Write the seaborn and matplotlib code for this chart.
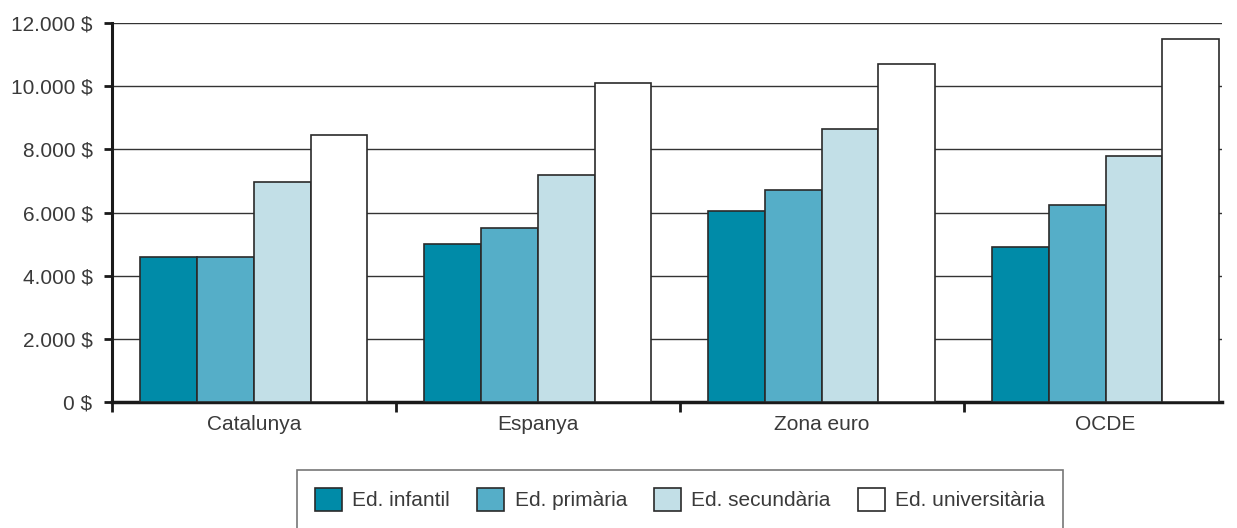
import pandas as pd
import numpy as np
import matplotlib.pyplot as plt
import seaborn as sns
from matplotlib.ticker import FuncFormatter, FixedLocator

regions = ["Catalunya", "Espanya", "Zona euro", "OCDE"]
levels = ["Ed. infantil", "Ed. primària", "Ed. secundària", "Ed. universitària"]
infantil = [4600, 5000, 6050, 4900]
primaria = [4600, 5500, 6700, 6250]
secundaria = [6980, 7200, 8650, 7800]
universitaria = [8450, 10100, 10700, 11500]
colors = ["#008ba8", "#55aec8", "#c2dfe7", "#ffffff"]

rows = []
for lev, vals in zip(levels, [infantil, primaria, secundaria, universitaria]):
    for reg, v in zip(regions, vals):
        rows.append({"regio": reg, "nivell": lev, "valor": v})
df = pd.DataFrame(rows)

sns.set_style("white")
plt.rcParams["font.family"] = ["Liberation Sans", "DejaVu Sans"]

fig = plt.figure(figsize=(12.37, 5.28), dpi=100)
ax = fig.add_axes([112 / 1237, 1 - 402 / 528, (1222 - 112) / 1237, (402 - 23) / 528])

sns.barplot(data=df, x="regio", y="valor", hue="nivell", order=regions, hue_order=levels,
            palette=colors, saturation=1, width=0.8, edgecolor="#2a2a2a", linewidth=1.2,
            legend=False, ax=ax, zorder=3)

ax.set_ylim(0, 12000)
ax.set_xlim(-0.5, 3.41)
ax.set_yticks(np.arange(0, 12001, 2000))
ax.yaxis.set_major_formatter(FuncFormatter(lambda v, p: f"{int(v):,} $".replace(",", ".")))
ax.grid(axis="y", color="#333333", linewidth=1.0, zorder=0)
ax.set_axisbelow(True)

for s in ["top", "right"]:
    ax.spines[s].set_visible(False)
ax.spines["left"].set_linewidth(2.2)
ax.spines["left"].set_color("#1a1a1a")
ax.spines["bottom"].set_linewidth(2.5)
ax.spines["bottom"].set_color("#1a1a1a")

ax.tick_params(axis="y", which="major", direction="out", length=6, width=2, color="#1a1a1a",
               labelsize=15, labelcolor="#3a3a3a", pad=8, left=True, right=False)
ax.tick_params(axis="x", which="major", length=0, labelsize=15, labelcolor="#3a3a3a", pad=9)
ax.xaxis.set_minor_locator(FixedLocator([-0.5, 0.5, 1.5, 2.5]))
ax.tick_params(axis="x", which="minor", direction="out", length=7, width=2, color="#1a1a1a", bottom=True)
ax.set_xlabel("")
ax.set_ylabel("")

handles = [plt.Rectangle((0, 0), 1, 1, facecolor=c, edgecolor="#2a2a2a", linewidth=1.2) for c in colors]
leg = fig.legend(handles, levels, loc="upper center", bbox_to_anchor=(680 / 1237, 1 - 470 / 528),
                 ncol=4, frameon=True, fancybox=False, fontsize=15, handlelength=1.3,
                 handleheight=1.35, handletextpad=0.5, columnspacing=1.3, borderpad=0.85,
                 borderaxespad=0)
leg.get_frame().set_edgecolor("#555555")
leg.get_frame().set_linewidth(1.2)
for t in leg.get_texts():
    t.set_color("#3a3a3a")

fig.savefig("out.png", dpi=100)
